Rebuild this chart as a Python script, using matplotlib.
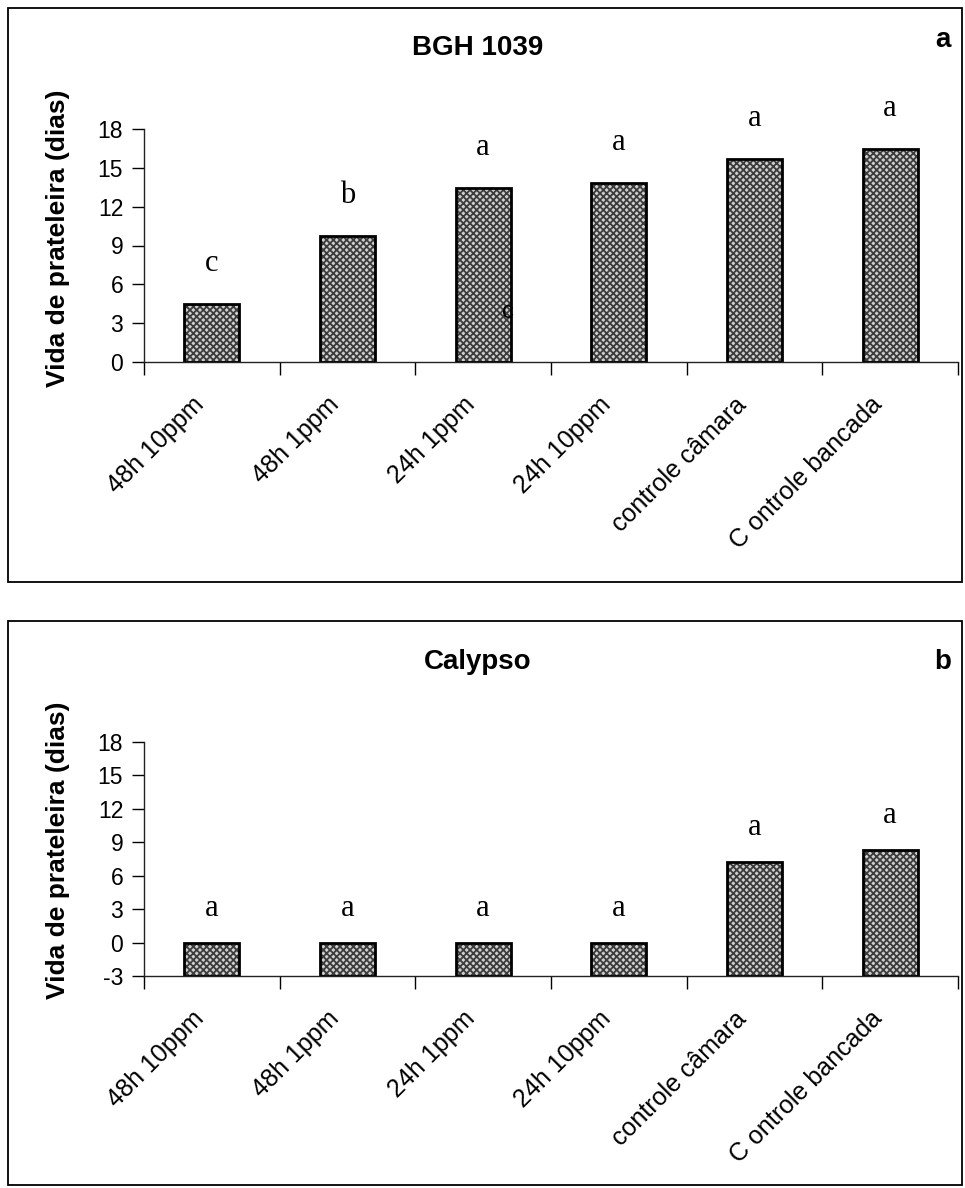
import matplotlib.pyplot as plt
from matplotlib.patches import Rectangle
import numpy as np

plt.rcParams['font.family'] = ['Liberation Sans', 'DejaVu Sans']
plt.rcParams['hatch.linewidth'] = 1.3
plt.rcParams['axes.unicode_minus'] = False

categories = ['48h 10ppm', '48h 1ppm', '24h 1ppm', '24h 10ppm',
              'controle câmara', 'C ontrole bancada']

# shelf life (days) per treatment
bgh_values = [4.5, 9.75, 13.45, 13.85, 15.7, 16.45]
bgh_letters = ['c', 'b', 'a', 'a', 'a', 'a']
calypso_values = [0, 0, 0, 0, 7.2, 8.3]
calypso_letters = ['a', 'a', 'a', 'a', 'a', 'a']

W, H = 965, 1188
fig = plt.figure(figsize=(W / 100, H / 100), dpi=100)


def box(x0, y0, x1, y1):
    # pixel coords from top-left -> figure fraction
    return [x0 / W, 1 - y1 / H, (x1 - x0) / W, (y1 - y0) / H]


def draw_panel(ax, values, letters, ymin, yticks):
    x = np.arange(len(values))
    # hatched fill then black outline on top
    ax.bar(x, np.array(values) - ymin, bottom=ymin, width=0.405,
           color='#cfcfcf', hatch='xxxxx', edgecolor='#3c3c3c', linewidth=0)
    ax.bar(x, np.array(values) - ymin, bottom=ymin, width=0.405,
           color='none', edgecolor='black', linewidth=2)
    for xi, v, s in zip(x, values, letters):
        ax.text(xi, v + 3.1, s, ha='center', va='center', fontsize=22,
                family='Liberation Serif', clip_on=False)
    ax.set_xlim(-0.5, len(values) - 0.5)
    ax.set_ylim(ymin, 18)
    ax.set_yticks(yticks)
    ax.tick_params(axis='y', labelsize=16.5, length=9, width=1, pad=6)
    # labels sit a little left of the category centre
    ax.set_xticks(x - 0.15)
    ax.set_xticklabels(categories, rotation=45, ha='right',
                       rotation_mode='anchor', fontsize=18)
    ax.set_xticks(np.arange(len(values) + 1) - 0.5, minor=True)
    ax.tick_params(axis='x', which='major', length=0, pad=22)
    ax.tick_params(axis='x', which='minor', length=9, width=1)
    for side in ['top', 'right']:
        ax.spines[side].set_visible(False)
    for side in ['left', 'bottom']:
        ax.spines[side].set_linewidth(1)
        ax.spines[side].set_color('#222222')


ax1 = fig.add_axes(box(144, 129, 958, 362))
draw_panel(ax1, bgh_values, bgh_letters, 0, [0, 3, 6, 9, 12, 15, 18])
ax1.text(2.18, 3.9, 'c', ha='center', va='center', fontsize=17,
         color='black', zorder=5)

ax2 = fig.add_axes(box(144, 742, 958, 976))
draw_panel(ax2, calypso_values, calypso_letters, -3,
           [-3, 0, 3, 6, 9, 12, 15, 18])

# panel frames
fig.patches.append(Rectangle((8 / W, 1 - 582 / H), 954 / W, 574 / H,
                             transform=fig.transFigure, fill=False,
                             edgecolor='black', linewidth=1.3))
fig.patches.append(Rectangle((8 / W, 1 - 1185 / H), 954 / W, 564 / H,
                             transform=fig.transFigure, fill=False,
                             edgecolor='black', linewidth=1.3))

fig.text(478 / W, 1 - 48 / H, 'BGH 1039', ha='center', va='center',
         fontsize=20, fontweight='bold')
fig.text(943 / W, 1 - 40 / H, 'a', ha='center', va='center',
         fontsize=20, fontweight='bold')
fig.text(478 / W, 1 - 662 / H, 'Calypso', ha='center', va='center',
         fontsize=20, fontweight='bold')
fig.text(943 / W, 1 - 662 / H, 'b', ha='center', va='center',
         fontsize=20, fontweight='bold')

fig.text(58 / W, 1 - 238 / H, 'Vida de prateleira (dias)', rotation=90,
         ha='center', va='center', fontsize=19, fontweight='bold')
fig.text(58 / W, 1 - 850 / H, 'Vida de prateleira (dias)', rotation=90,
         ha='center', va='center', fontsize=19, fontweight='bold')

fig.savefig('out.png', dpi=100)
